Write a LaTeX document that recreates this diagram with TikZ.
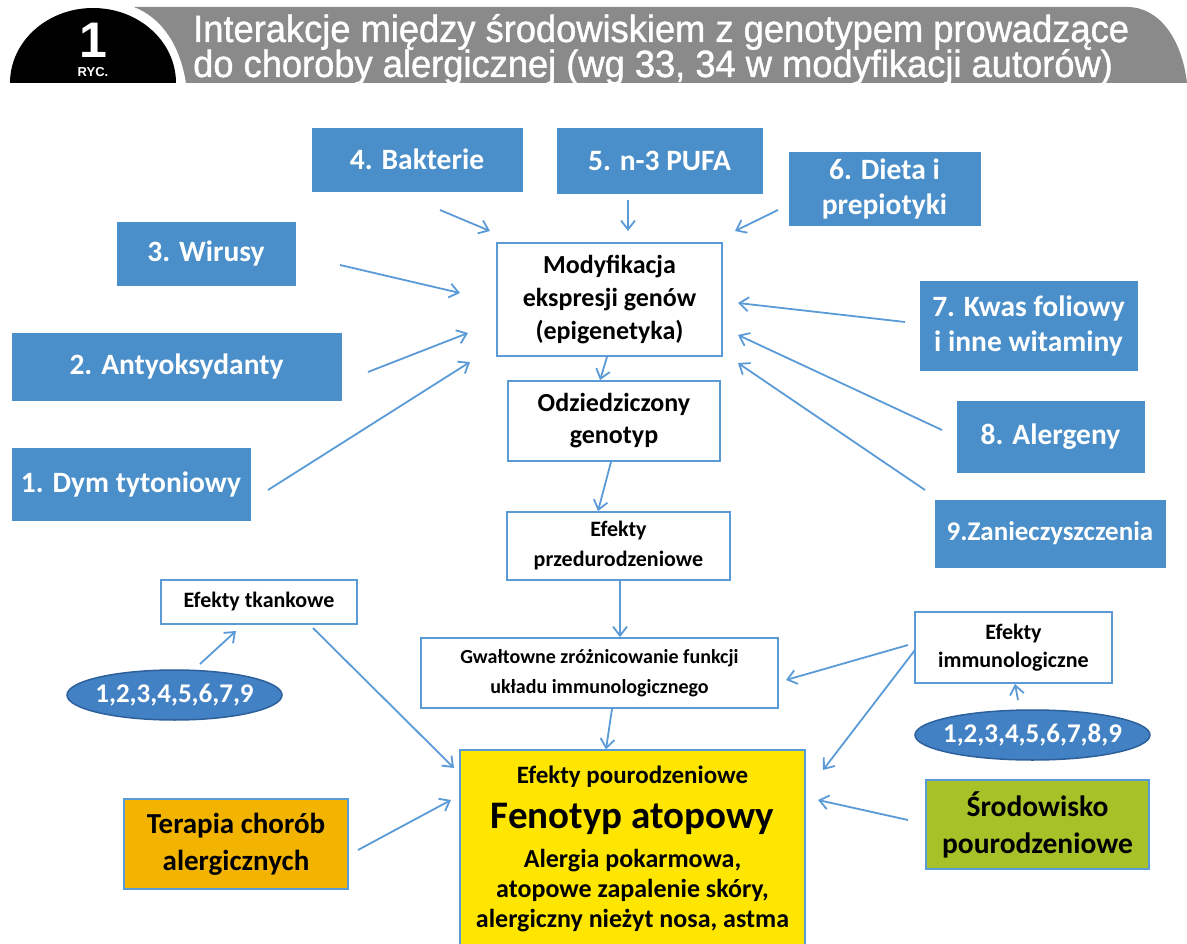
\documentclass[tikz,border=0pt]{standalone}
\usepackage{fontspec}
\setmainfont{Carlito}
\newfontfamily\titlefont[FakeBold=1.1,FakeStretch=0.955]{Liberation Sans}
\newfontfamily\numfont{Liberation Sans}
\usetikzlibrary{arrows.meta,shapes.geometric}
\definecolor{bbox}{RGB}{74,143,201}
\definecolor{bline}{RGB}{90,155,215}
\definecolor{ellfill}{RGB}{66,130,196}
\definecolor{elldraw}{RGB}{45,95,155}
\definecolor{yel}{RGB}{255,230,0}
\definecolor{ora}{RGB}{242,180,0}
\definecolor{grn}{RGB}{166,194,40}
\definecolor{hgray}{RGB}{138,138,138}
\tikzset{
  bluebox/.style={fill=bbox, draw=bbox, text=white, font=\fontsize{29.5}{35}\selectfont\bfseries, align=center, inner sep=0pt},
  wbox/.style={fill=white, draw=bline, line width=1.8pt, text=black, align=center, inner sep=0pt},
  ell/.style={ellipse, fill=ellfill, draw=elldraw, line width=1.5pt, inner sep=0pt},
  elltext/.style={text=white, font=\fontsize{27}{30}\selectfont\bfseries, inner sep=0pt},
  arr/.style={draw=bline, line width=1.8pt, -{Straight Barb[length=9pt,width=14pt,line width=1.8pt]}},
}
\begin{document}
\begin{tikzpicture}[x=1pt,y=-1pt]
\useasboundingbox (0,0) rectangle (1187,944);
% header
\fill[black] (10,83) arc[start angle=180, end angle=360, x radius=83, y radius=75] -- cycle;
\fill[hgray] (186,83) .. controls (180,45) and (162,18) .. (134,7) -- (1127,7) .. controls (1160,7) and (1182,40) .. (1187,83) -- cycle;
\node[text=white, font=\fontsize{50}{50}\numfont\bfseries] (num) at (93,40) {1};
\node[text=white, font=\fontsize{13}{13}\numfont\bfseries] (ryc) at (93,72) {RYC.};
\node[text=white, anchor=base west, inner sep=0pt, font=\fontsize{38}{38}\titlefont] (t1) at (193,42) {Interakcje między środowiskiem z genotypem prowadzące};
\node[text=white, anchor=base west, inner sep=0pt, font=\fontsize{38}{38}\titlefont] (t2) at (193,77) {do choroby alergicznej (wg 33, 34 w modyfikacji autorów)};
% blue boxes
\node[bluebox, minimum width=210pt, minimum height=63pt] (b4) at (417,159.5) {4. Bakterie};
\node[bluebox, minimum width=205pt, minimum height=65pt] (b5) at (659.5,160.5) {5. n-3 PUFA};
\node[bluebox, minimum width=191pt, minimum height=73pt] (b6) at (884.5,188.5) {6. Dieta i\\prepiotyki};
\node[bluebox, minimum width=178pt, minimum height=63pt] (b3) at (206,253.5) {3. Wirusy};
\node[bluebox, minimum width=217pt, minimum height=89pt] (b7) at (1028.5,325.5) {7. Kwas foliowy\\i inne witaminy};
\node[bluebox, minimum width=329pt, minimum height=67pt] (b2) at (176.5,366.5) {2. Antyoksydanty};
\node[bluebox, minimum width=187pt, minimum height=71pt] (b8) at (1050.5,436.5) {8. Alergeny};
\node[bluebox, minimum width=238pt, minimum height=72pt] (b1) at (131,484) {1. Dym tytoniowy};
\node[bluebox, minimum width=230pt, minimum height=67pt, font=\fontsize{27}{32}\selectfont\bfseries] (b9) at (1050,533.5) {9.Zanieczyszczenia};
% white boxes
\node[wbox, minimum width=225pt, minimum height=113pt, font=\fontsize{26}{33}\selectfont\bfseries] (mod) at (609.5,299.5) {Modyfikacja\\ekspresji genów\\(epigenetyka)};
\node[wbox, minimum width=212pt, minimum height=80pt, font=\fontsize{26}{32}\selectfont\bfseries] (odz) at (614,421) {Odziedziczony\\genotyp};
\node[wbox, minimum width=223pt, minimum height=68pt, font=\fontsize{22}{30}\selectfont\bfseries] (prz) at (618.5,546) {Efekty\\przedurodzeniowe};
\node[wbox, minimum width=196pt, minimum height=44pt, font=\fontsize{22}{24}\selectfont\bfseries] (tk) at (259,602) {Efekty tkankowe};
\node[wbox, minimum width=357pt, minimum height=70pt, font=\fontsize{20}{30}\selectfont\bfseries] (gw) at (599.5,673) {Gwałtowne zróżnicowanie funkcji\\układu immunologicznego};
\node[wbox, minimum width=197pt, minimum height=71pt, font=\fontsize{22}{28}\selectfont\bfseries] (imm) at (1013.5,647.5) {Efekty\\immunologiczne};
\node[ell, minimum width=215pt, minimum height=50pt] (e1) at (174.5,695) {};
\node[elltext] (e1t) at (e1.center) {1,2,3,4,5,6,7,9};
\node[ell, minimum width=235pt, minimum height=50pt] (e2) at (1032.5,735) {};
\node[elltext] (e2t) at (e2.center) {1,2,3,4,5,6,7,8,9};
% bottom boxes
\node[fill=yel, draw=bline, line width=1.2pt, minimum width=345pt, minimum height=200pt, inner sep=0pt] (fen) at (632.5,850) {};
\node[font=\fontsize{25}{28}\selectfont\bfseries, anchor=base, inner sep=0pt] (fen1) at (632.5,783) {Efekty pourodzeniowe};
\node[font=\fontsize{39}{42}\selectfont\bfseries, anchor=base, inner sep=0pt] (fen2) at (632.5,828) {Fenotyp atopowy};
\node[font=\fontsize{26}{30}\selectfont\bfseries, anchor=base, inner sep=0pt] (fen3) at (632.5,867) {Alergia pokarmowa,};
\node[font=\fontsize{26}{30}\selectfont\bfseries, anchor=base, inner sep=0pt] (fen4) at (632.5,897) {atopowe zapalenie skóry,};
\node[font=\fontsize{26}{30}\selectfont\bfseries, anchor=base, inner sep=0pt] (fen5) at (632.5,927) {alergiczny nieżyt nosa, astma};
\node[fill=ora, draw=bline, line width=1.2pt, minimum width=224pt, minimum height=90pt, inner sep=0pt, align=center, font=\fontsize{29}{37}\selectfont\bfseries] (ter) at (236,844) {Terapia chorób\\alergicznych};
\node[fill=grn, draw=bline, line width=1.2pt, minimum width=223pt, minimum height=89pt, inner sep=0pt, align=center, font=\fontsize{29.5}{37}\selectfont\bfseries] (sro) at (1037.5,824.5) {Środowisko\\pourodzeniowe};
% arrow endpoints
\coordinate (a4s) at (440,210); \coordinate (a4e) at (490,231);
\coordinate (a5s) at (628,200); \coordinate (a5e) at (628,231);
\coordinate (a6s) at (778,210); \coordinate (a6e) at (735,231);
\coordinate (a3s) at (340,265); \coordinate (a3e) at (460,293);
\coordinate (a2s) at (368,372); \coordinate (a2e) at (468,333);
\coordinate (a1s) at (268,490); \coordinate (a1e) at (470,362);
\coordinate (a7s) at (905,322); \coordinate (a7e) at (738,303);
\coordinate (a8s) at (942,430); \coordinate (a8e) at (738,335);
\coordinate (a9s) at (925,490); \coordinate (a9e) at (738,363);
\draw[arr] (a4s) -- (a4e);
\draw[arr] (a5s) -- (a5e);
\draw[arr] (a6s) -- (a6e);
\draw[arr] (a3s) -- (a3e);
\draw[arr] (a2s) -- (a2e);
\draw[arr] (a1s) -- (a1e);
\draw[arr] (a7s) -- (a7e);
\draw[arr] (a8s) -- (a8e);
\draw[arr] (a9s) -- (a9e);
\draw[arr] (mod.south -| 607,0) -- (odz.north -| 600,0);
\draw[arr] (odz.south -| 611,0) -- (prz.north -| 598,0);
\draw[arr] (prz.south -| 620,0) -- (gw.north -| 620,0);
\draw[arr] (gw.south -| 612,0) -- (fen.north -| 606,0);
\coordinate (c1) at (200,664); \coordinate (c2) at (236,631);
\draw[arr] (c1) -- (c2);
\coordinate (c3) at (313,628); \coordinate (c4) at (454,768);
\draw[arr] (c3) -- (c4);
\coordinate (c5) at (908,645); \coordinate (c6) at (786,680);
\draw[arr] (c5) -- (c6);
\coordinate (c7) at (915,650); \coordinate (c8) at (823,770);
\draw[arr] (c7) -- (c8);
\coordinate (c9) at (1018,700); \coordinate (c10) at (1015,684);
\draw[arr] (c9) -- (c10);
\coordinate (c11) at (908,820); \coordinate (c12) at (818,800);
\draw[arr] (c11) -- (c12);
\coordinate (c13) at (358,850); \coordinate (c14) at (451,800);
\draw[arr] (c13) -- (c14);
\end{tikzpicture}
\end{document}
